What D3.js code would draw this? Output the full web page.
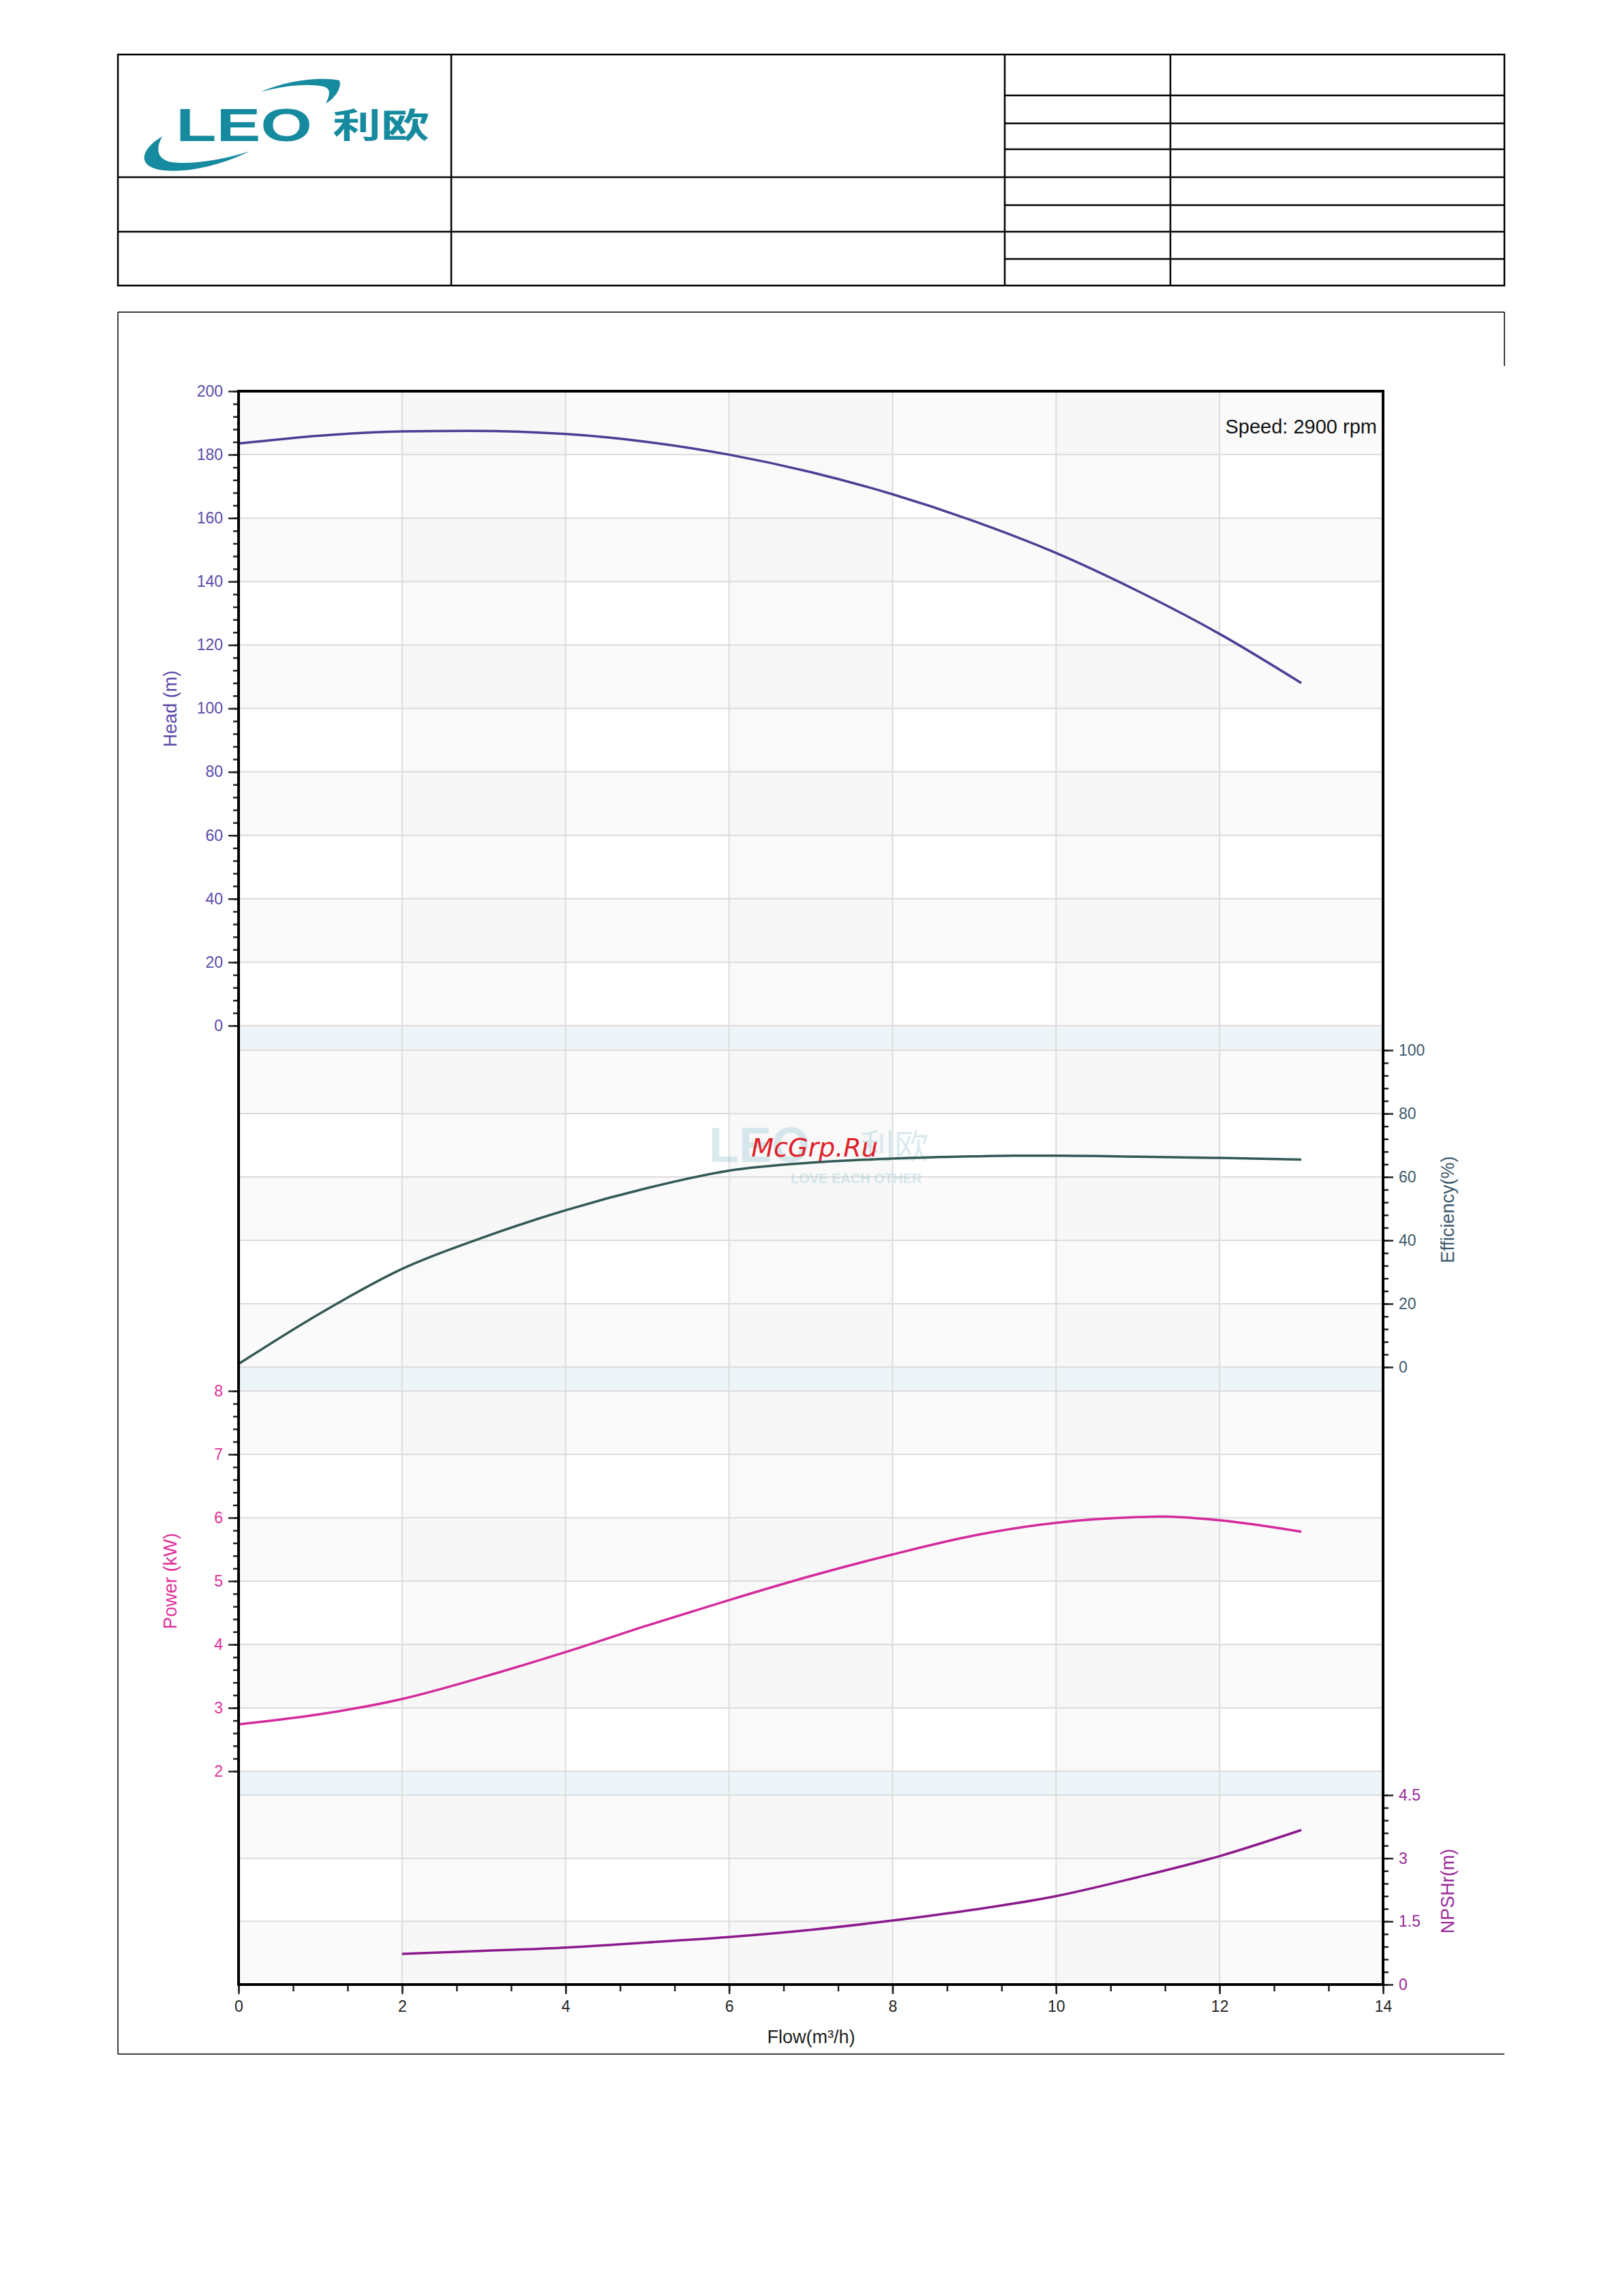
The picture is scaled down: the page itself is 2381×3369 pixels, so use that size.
<!DOCTYPE html>
<html><head><meta charset="utf-8">
<script src="https://cdn.jsdelivr.net/npm/d3@7"></script>
<style>body{margin:0;background:#fff}svg{display:block;font-family:Arial,"Liberation Sans",sans-serif}</style>
</head><body><svg id="c" width="2381" height="3369"></svg>
<script>
const flowTicks=[0,2,4,6,8,10,12,14];
const headFlow=[0,1,2,2.8,4,5,6,7,8,9,10,11,12,13];
const headVal=[183.5,186,187.3,187.5,186.5,184,180,174.5,167.5,159,149,137,123.5,108];
const effFlow=[0,1,2,3,4,5,6,7,8,9,9.5,10,11,12,13];
const effVal=[1,17,31,41,49.5,56.5,62,64.5,65.8,66.5,66.7,66.7,66.4,66,65.5];
const powFlow=[0,1,2,3,4,5,6,7,8,9,10,11,11.3,12,13];
const powVal=[2.74,2.9,3.14,3.49,3.88,4.3,4.7,5.08,5.42,5.72,5.92,6.01,6.02,5.96,5.78];
const npshFlow=[2,3,4,5,6,7,8,9,10,11,12,13];
const npshVal=[0.73,0.8,0.88,1.0,1.13,1.3,1.52,1.78,2.1,2.55,3.05,3.67];
const headTicks=[0,20,40,60,80,100,120,140,160,180,200];
const effTicks=[0,20,40,60,80,100];
const powTicks=[2,3,4,5,6,7,8];
const npshTicks=[0,1.5,3,4.5];

const svg=d3.select("#c");
const L=350,R=2029;
const x=d3.scaleLinear().domain([0,14]).range([L,R]);
const yH=d3.scaleLinear().domain([0,200]).range([1505,574]);
const yE=d3.scaleLinear().domain([0,100]).range([2006,1541]);
const yP=d3.scaleLinear().domain([2,8]).range([2599,2041]);
const yN=d3.scaleLinear().domain([0,4.5]).range([2912,2634]);
const T=574,B=2912;

// header table
const hg=svg.append("g").attr("stroke","#000").attr("stroke-width",2.5).attr("fill","none");
hg.append("rect").attr("x",173).attr("y",80).attr("width",2034).attr("height",339);
[[662,80,662,419],[1474,80,1474,419],[1717,80,1717,419],[173,260,1474,260],[173,340,1474,340]].forEach(l=>hg.append("line").attr("x1",l[0]).attr("y1",l[1]).attr("x2",l[2]).attr("y2",l[3]));
[140,181,219,260,301,340,380].forEach(y=>hg.append("line").attr("x1",1474).attr("x2",2207).attr("y1",y).attr("y2",y));
// logo
const lg=svg.append("g").attr("fill","#168a9e");
lg.append("path").attr("d","M382,135 C420,118 470,112 498,118 C502,130 490,145 478,152 C484,140 486,130 475,127 C450,122 415,126 382,135 Z");
lg.append("path").attr("d","M238,200 C205,220 200,245 240,250 C280,254 330,240 366,222 C330,234 280,242 252,238 C230,234 228,218 238,200 Z");
lg.append("text").attr("x",258).attr("y",207).attr("font-size",68).attr("font-weight","bold").attr("textLength",200).attr("lengthAdjust","spacingAndGlyphs").text("LEO");
lg.append("text").attr("x",488).attr("y",202).attr("font-size",50).attr("font-weight","bold").attr("font-family","Noto Sans CJK SC").attr("textLength",142).attr("lengthAdjust","spacingAndGlyphs").text("利欧");

// outer chart box
const ob=svg.append("g").attr("stroke","#000").attr("stroke-width",1.5).attr("fill","none");
ob.append("line").attr("x1",173).attr("x2",2207).attr("y1",458).attr("y2",458);
ob.append("line").attr("x1",173).attr("x2",173).attr("y1",458).attr("y2",3014);
ob.append("line").attr("x1",2207).attr("x2",2207).attr("y1",458).attr("y2",537);
ob.append("line").attr("x1",173).attr("x2",2207).attr("y1",3014).attr("y2",3014);

// plot backgrounds
const bg=svg.append("g");
function rows(scale,ticks){for(let i=0;i<ticks.length-1;i++){const a=scale(ticks[i]),b=scale(ticks[i+1]);
 if((ticks.length-2-i)%2==0) bg.append("rect").attr("x",L).attr("y",Math.min(a,b)).attr("width",R-L).attr("height",Math.abs(a-b)).attr("fill","#f7f7f7").attr("opacity",0.6);}}
rows(yH,headTicks);rows(yE,effTicks);rows(yP,powTicks);rows(yN,npshTicks);
for(let i=1;i<7;i+=2) bg.append("rect").attr("x",x(flowTicks[i])).attr("y",T).attr("width",x(flowTicks[i+1])-x(flowTicks[i])).attr("height",B-T).attr("fill","#f4f4f4").attr("opacity",0.5);
[[1505,1541],[2006,2041],[2599,2634]].forEach(b=>bg.append("rect").attr("x",L).attr("y",b[0]).attr("width",R-L).attr("height",b[1]-b[0]).attr("fill","#eef5f9"));
const gg=svg.append("g").attr("stroke","#dcdcdc").attr("stroke-width",2);
flowTicks.slice(1,-1).forEach(v=>gg.append("line").attr("x1",x(v)).attr("x2",x(v)).attr("y1",T).attr("y2",B));
[[yH,headTicks],[yE,effTicks],[yP,powTicks],[yN,npshTicks]].forEach(([s,t])=>t.forEach(v=>gg.append("line").attr("x1",L).attr("x2",R).attr("y1",s(v)).attr("y2",s(v))));

// watermark
const wm=svg.append("g").attr("opacity",0.22).attr("fill","#5aa9b8");
wm.append("text").attr("x",1040).attr("y",1705).attr("font-size",72).attr("font-weight","bold").text("LEO");
wm.append("text").attr("x",1262).attr("y",1700).attr("font-size",50).attr("font-family","Noto Sans CJK SC").text("利欧");
wm.append("text").attr("x",1160).attr("y",1736).attr("font-size",20).attr("font-weight","bold").text("LOVE EACH OTHER");
svg.append("text").attr("x",1195).attr("y",1697).attr("text-anchor","middle").attr("font-size",38).attr("font-style","italic").attr("fill","#e0202a").attr("font-family","DejaVu Sans").text("McGrp.Ru");

// curves
function curve(fx,fy,ys,col){svg.append("path").datum(fx.map((v,i)=>[v,fy[i]])).attr("fill","none").attr("stroke",col).attr("stroke-width",3.5)
 .attr("d",d3.line().x(d=>x(d[0])).y(d=>ys(d[1])).curve(d3.curveMonotoneX));}
curve(headFlow,headVal,yH,"#4b3f94");
curve(effFlow,effVal,yE,"#335955");
curve(powFlow,powVal,yP,"#d42a9c");
curve(npshFlow,npshVal,yN,"#8c1a8c");

function yAxis(scale,ticks,minorN,col,right){const lo=ticks[0],hi=ticks[ticks.length-1];
 const mk=right?d3.axisRight:d3.axisLeft;const xp=right?R:L;
 const mn=d3.range(0,(ticks.length-1)*minorN+1).map(i=>lo+(hi-lo)*i/((ticks.length-1)*minorN));
 const g1=svg.append("g").attr("transform",`translate(${xp},0)`).call(mk(scale).tickValues(mn).tickSize(8).tickFormat(""));
 const g2=svg.append("g").attr("transform",`translate(${xp},0)`).call(mk(scale).tickValues(ticks).tickSize(15).tickPadding(8).tickFormat(d3.format("")));
 [g1,g2].forEach(g=>{g.select(".domain").remove();g.selectAll("line").attr("stroke","#222").attr("stroke-width",2.5);});
 g2.selectAll("text").attr("fill",col).attr("font-size",23).attr("font-family","Arial,Liberation Sans");}
yAxis(yH,headTicks,5,"#5a4aa8",false);
yAxis(yE,effTicks,5,"#3d5a6c",true);
yAxis(yP,powTicks,5,"#e0309a",false);
yAxis(yN,npshTicks,5,"#9a2a9a",true);
const xm=d3.range(0,22).map(i=>i*14/21);
const gx1=svg.append("g").attr("transform",`translate(0,${B})`).call(d3.axisBottom(x).tickValues(xm).tickSize(10).tickFormat(""));
const gx2=svg.append("g").attr("transform",`translate(0,${B})`).call(d3.axisBottom(x).tickValues(flowTicks).tickSize(14).tickPadding(10).tickFormat(d3.format("")));
[gx1,gx2].forEach(g=>{g.select(".domain").remove();g.selectAll("line").attr("stroke","#222").attr("stroke-width",2.5);});
gx2.selectAll("text").attr("fill","#222").attr("font-size",23);
svg.append("rect").attr("x",L).attr("y",T).attr("width",R-L).attr("height",B-T).attr("fill","none").attr("stroke","#000").attr("stroke-width",4);

function vt(txt,xx,yy,col){svg.append("text").attr("transform",`translate(${xx},${yy}) rotate(-90)`).attr("text-anchor","middle").attr("fill",col).attr("font-size",27).text(txt);}
vt("Head (m)",259,1040,"#5a4aa8");
vt("Efficiency(%)",2133,1775,"#3d5a6c");
vt("Power (kW)",259,2320,"#e0309a");
vt("NPSHr(m)",2133,2775,"#9a2a9a");
svg.append("text").attr("x",1190).attr("y",2998).attr("text-anchor","middle").attr("font-size",27).attr("fill","#222").text("Flow(m³/h)");
svg.append("text").attr("x",2020).attr("y",636).attr("text-anchor","end").attr("font-size",29).attr("fill","#111").text("Speed: 2900 rpm");
</script></body></html>
